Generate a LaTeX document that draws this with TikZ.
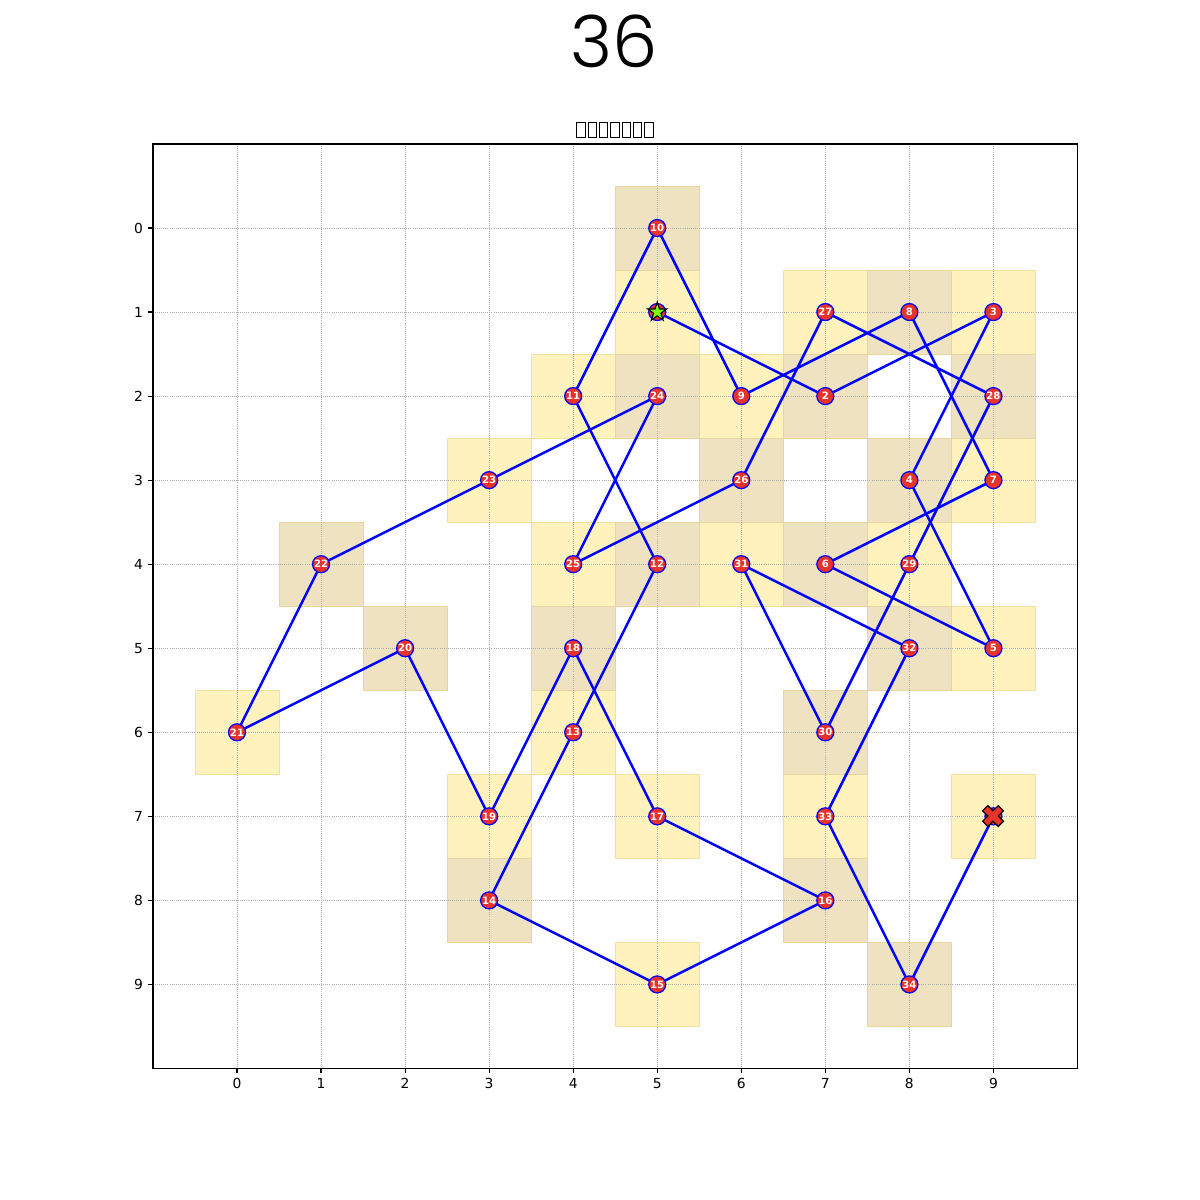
\documentclass[tikz,border=0pt]{standalone}
\usepackage{fontspec}
\setmainfont{DejaVu Sans}
\newfontfamily\titlefont{Poppins Light}
\usetikzlibrary{shapes.geometric}
\definecolor{cellA}{HTML}{FFF2BD}
\definecolor{cellAedge}{HTML}{F3E09A}
\definecolor{cellB}{HTML}{EFE2C0}
\definecolor{cellBedge}{HTML}{E8D5A0}
\definecolor{nodered}{HTML}{E8322A}
\definecolor{startgreen}{HTML}{7CFC00}
\definecolor{pathblue}{HTML}{0000FF}
\pgfdeclarelayer{background}
\pgfdeclarelayer{edges}
\pgfsetlayers{background,edges,main}
\newcommand\tofuglyph{{\fboxsep=0pt\fboxrule=0.7pt\fbox{\rule{0pt}{10.4pt}\hspace{5.4pt}}}}
\tikzset{
  cellodd/.style={fill=cellA,draw=cellAedge,line width=0.6pt},
  celleven/.style={fill=cellB,draw=cellBedge,line width=0.6pt},
  gridline/.style={gray!65,dash pattern=on 0.6pt off 0.9pt,line width=0.45pt},
  pathline/.style={pathblue,line width=1.8pt},
  tour/.style={circle,fill=nodered,draw=pathblue,line width=0.9pt,minimum size=0.17in,inner sep=0pt,
    text=white,font=\fontsize{7.3}{8}\selectfont\bfseries},
  ticklabel/.style={font=\fontsize{10}{12}\selectfont,inner sep=0pt},
}
\begin{document}
\begin{tikzpicture}[x=0.01in,y=-0.01in]
\useasboundingbox (0,0) rectangle (1200,1200);
\node[font=\titlefont\fontsize{52}{60}\selectfont,inner sep=0pt] (title) at (614,41) {36};
\node[inner sep=0pt] (subtitle) at (615,130) {\tofuglyph\hspace{1.4pt}\tofuglyph\hspace{1.4pt}\tofuglyph\hspace{1.4pt}\tofuglyph\hspace{1.4pt}\tofuglyph\hspace{1.4pt}\tofuglyph\hspace{1.4pt}\tofuglyph};
\begin{scope}[shift={(237,228)},x=0.84in,y=-0.84in]
  % cells
  \begin{pgfonlayer}{background}
    \foreach \x/\y in {5/1,9/1,9/5,9/3,6/2,4/2,4/6,5/9,5/7,3/7,0/6,3/3,4/4,7/1,8/4,6/4,7/7,9/7}
      \draw[cellodd] (\x-0.5,\y-0.5) rectangle (\x+0.5,\y+0.5);
    \foreach \x/\y in {7/2,8/3,7/4,8/1,5/0,5/4,3/8,7/8,4/5,2/5,1/4,5/2,6/3,9/2,7/6,8/5,8/9}
      \draw[celleven] (\x-0.5,\y-0.5) rectangle (\x+0.5,\y+0.5);
    \foreach \i in {0,...,9} {
      \draw[gridline] (\i,-1) -- (\i,10);
      \draw[gridline] (-1,\i) -- (10,\i);
    }
  \end{pgfonlayer}
  % frame, ticks, labels
  \draw[line width=0.8pt] (-1,-1) rectangle (10,10);
  \foreach \i in {0,...,9} {
    \draw[line width=0.8pt] (\i,10) -- (\i,10.058);
    \node[ticklabel,anchor=north] (xt\i) at (\i,10.117) {\i};
    \draw[line width=0.8pt] (-1,\i) -- (-1.058,\i);
    \node[ticklabel,anchor=east] (yt\i) at (-1.117,\i) {\i};
  }
  % tour nodes
  \node[tour] (n1) at (5,1) {};
  \foreach \n/\x/\y in {2/7/2,3/9/1,4/8/3,5/9/5,6/7/4,7/9/3,8/8/1,9/6/2,10/5/0,11/4/2,12/5/4,13/4/6,14/3/8,15/5/9,16/7/8,17/5/7,18/4/5,19/3/7,20/2/5,21/0/6,22/1/4,23/3/3,24/5/2,25/4/4,26/6/3,27/7/1,28/9/2,29/8/4,30/7/6,31/6/4,32/8/5,33/7/7,34/8/9}
    \node[tour] (n\n) at (\x,\y) {\n};
  \node[tour] (n35) at (9,7) {};
  \begin{pgfonlayer}{edges}
    \foreach \a in {1,...,34} {
      \pgfmathtruncatemacro\b{\a+1}
      \draw[pathline] (n\a.center) -- (n\b.center);
    }
  \end{pgfonlayer}
  % start marker
  \node[star,star points=5,star point ratio=2.62,minimum size=0.2in,inner sep=0pt,
        fill=startgreen,draw=black,line width=0.8pt] (startmark) at (n1.center) {};
\end{scope}
% end marker
\begin{scope}[shift={(993,816)},rotate=45,x=0.111in,y=0.111in]
  \draw[fill=nodered,draw=black,line width=0.8pt]
    (1/3,1) -- (-1/3,1) -- (-1/3,1/3) -- (-1,1/3) -- (-1,-1/3) -- (-1/3,-1/3) --
    (-1/3,-1) -- (1/3,-1) -- (1/3,-1/3) -- (1,-1/3) -- (1,1/3) -- (1/3,1/3) -- cycle;
\end{scope}
\end{tikzpicture}
\end{document}
